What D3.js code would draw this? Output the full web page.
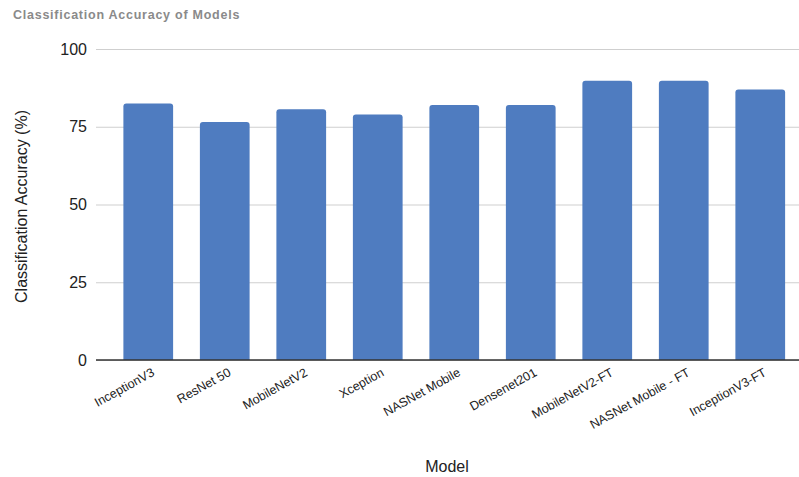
<!DOCTYPE html>
<html>
<head>
<meta charset="utf-8">
<script src="https://cdn.jsdelivr.net/npm/d3@7"></script>
<style>
  body { margin: 0; background: #fff; }
  svg { display: block; font-family: "Liberation Sans", Arial, sans-serif; }
</style>
</head>
<body>
<svg id="chart" width="799" height="477"></svg>
<script>
// Classification accuracy (%) per model
const models = ["InceptionV3", "ResNet 50", "MobileNetV2", "Xception", "NASNet Mobile",
                "Densenet201", "MobileNetV2-FT", "NASNet Mobile - FT", "InceptionV3-FT"];
const accuracy = [82.5, 76.5, 80.6, 78.9, 82.0, 82.0, 89.8, 89.8, 87.0];
const yTicks = [0, 25, 50, 75, 100];

const svg = d3.select("#chart");
const plot = { left: 96, right: 799, top: 49, bottom: 360 };

const x = d3.scaleBand()
  .domain(models)
  .range([110, 798.5])
  .paddingInner(0.35)
  .paddingOuter(0.175);

const y = d3.scaleLinear().domain([0, 100]).range([plot.bottom, plot.top]);

// Title
svg.append("text")
  .attr("x", 13).attr("y", 19)
  .attr("fill", "#8a8a8a")
  .attr("font-size", 12.5)
  .attr("font-weight", "bold")
  .attr("letter-spacing", 0.75)
  .text("Classification Accuracy of Models");

// Gridlines + tick labels
const yAxis = d3.axisLeft(y).tickValues(yTicks).tickSize(-(plot.right - plot.left)).tickPadding(9);
const yg = svg.append("g").attr("transform", `translate(${plot.left},0)`).call(yAxis);
yg.select(".domain").remove();
yg.selectAll(".tick line").attr("stroke", "#cfcfcf").attr("stroke-width", 1.2);
yg.selectAll(".tick text").attr("font-size", 16).attr("fill", "#222")
  .attr("font-family", "Liberation Sans, Arial, sans-serif");

// Bars with rounded top corners
const r = 3;
function barPath(d, i) {
  const x0 = x(models[i]), w = x.bandwidth();
  const yt = y(d), yb = y(0);
  return `M${x0},${yb} V${yt + r} Q${x0},${yt} ${x0 + r},${yt} H${x0 + w - r} Q${x0 + w},${yt} ${x0 + w},${yt + r} V${yb} Z`;
}
svg.append("g").selectAll("path")
  .data(accuracy)
  .join("path")
  .attr("d", barPath)
  .attr("fill", "#4f7cc0");

// Baseline
svg.append("line")
  .attr("x1", plot.left).attr("x2", plot.right)
  .attr("y1", y(0)).attr("y2", y(0))
  .attr("stroke", "#333").attr("stroke-width", 1.6);

// Category labels
const xAxis = d3.axisBottom(x).tickSize(0).tickPadding(0);
const xg = svg.append("g").attr("transform", `translate(0,${plot.bottom})`).call(xAxis);
xg.select(".domain").remove();
xg.selectAll(".tick text")
  .attr("font-size", 12.5)
  .attr("fill", "#222")
  .attr("font-family", "Liberation Sans, Arial, sans-serif")
  .attr("text-anchor", "end")
  .attr("dy", 0)
  .attr("transform", "translate(7,15) rotate(-29)");

// Axis titles
svg.append("text")
  .attr("transform", `translate(27,${(plot.top + plot.bottom) / 2 + 2}) rotate(-90)`)
  .attr("text-anchor", "middle")
  .attr("font-size", 16).attr("fill", "#222")
  .text("Classification Accuracy (%)");

svg.append("text")
  .attr("x", 447).attr("y", 472)
  .attr("text-anchor", "middle")
  .attr("font-size", 16).attr("fill", "#222")
  .text("Model");
</script>
</body>
</html>
